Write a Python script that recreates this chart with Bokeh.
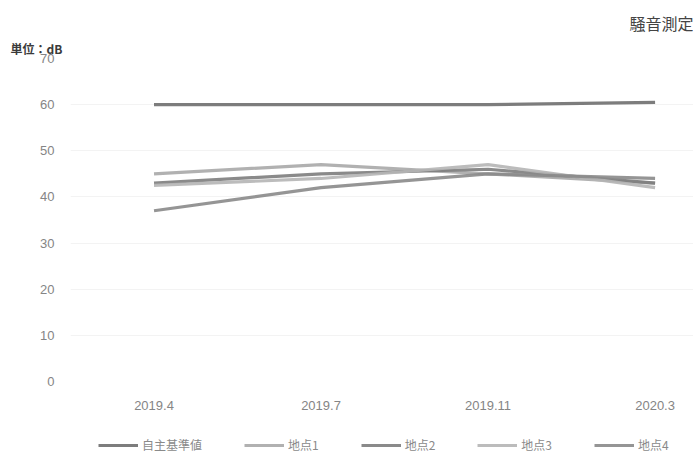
from bokeh.plotting import figure
from bokeh.layouts import column
from bokeh.models import Range1d, FixedTicker, Legend, LegendItem, Title
from bokeh.embed import file_html
from bokeh.resources import INLINE

# 測定時期
periods = ["2019.4", "2019.7", "2019.11", "2020.3"]
# 騒音レベル (dB)
standard = [60, 60, 60, 60.5]
site1 = [45, 47, 45, 43]
site2 = [43, 45, 46, 43]
site3 = [42.5, 44, 47, 42]
site4 = [37, 42, 45, 44]

y_ticks = [0, 10, 20, 30, 40, 50, 60, 70]

series = [
    ("自主基準値", standard, "#6f6f6f"),
    ("地点1", site1, "#a8a8a8"),
    ("地点2", site2, "#7d7d7d"),
    ("地点3", site3, "#b5b5b5"),
    ("地点4", site4, "#8a8a8a"),
]

xs = list(range(len(periods)))

# main chart
p = figure(width=693, height=415, output_backend="svg", toolbar_location=None,
           x_range=Range1d(-0.5, 3.23), y_range=Range1d(0, 70),
           min_border_left=70, min_border_right=0, min_border_top=58,
           min_border_bottom=34)
p.outline_line_color = None

for name, vals, color in series:
    p.line(xs, vals, line_color=color, line_width=3.2, line_alpha=0.9)

p.xaxis.ticker = FixedTicker(ticks=xs)
p.xaxis.major_label_overrides = {i: s for i, s in enumerate(periods)}
p.yaxis.ticker = FixedTicker(ticks=y_ticks)

for ax in (p.xaxis[0], p.yaxis[0]):
    ax.axis_line_color = None
    ax.major_tick_line_color = None
    ax.minor_tick_line_color = None
    ax.major_label_text_color = "#858585"
    ax.major_label_text_font = "Liberation Sans"
    ax.major_label_text_font_size = "13px"
p.yaxis.major_label_standoff = 10
p.xaxis.major_label_standoff = 13

p.xgrid.grid_line_color = None
p.ygrid.grid_line_color = "#f3f3f3"
p.ygrid.grid_line_width = 1

p.add_layout(Title(text="単位：dB", align="left", offset=-60, standoff=4,
                   text_font="Noto Sans CJK JP", text_font_size="12px",
                   text_font_style="bold", text_color="#3a3a3a"), "above")
p.add_layout(Title(text="騒音測定", align="right", offset=0, standoff=2,
                   text_font="Noto Sans CJK JP", text_font_size="16px",
                   text_font_style="normal", text_color="#444444"), "above")

# legend strip under the chart; the series sit outside its visible range
lg = figure(width=693, height=42, output_backend="svg", toolbar_location=None,
            x_range=Range1d(-0.5, 3.23), y_range=Range1d(100, 101),
            x_axis_type=None, y_axis_type=None, min_border=0)
lg.outline_line_color = None
lg.xgrid.visible = False
lg.ygrid.visible = False

items = []
for name, vals, color in series:
    r = lg.line(xs, vals, line_color=color, line_width=3.2, line_alpha=0.9)
    items.append(LegendItem(label=name, renderers=[r]))

legend = Legend(items=items, orientation="horizontal", location=(28, 4),
                glyph_width=40, glyph_height=12, label_standoff=4, spacing=42,
                label_text_font="Noto Sans CJK JP", label_text_font_size="12px",
                label_text_color="#8a8a8a", background_fill_alpha=0,
                border_line_alpha=0, padding=0, margin=0)
lg.add_layout(legend, "center")

layout = column(p, lg, spacing=0)
open("out.html", "w").write(file_html(layout, INLINE))
